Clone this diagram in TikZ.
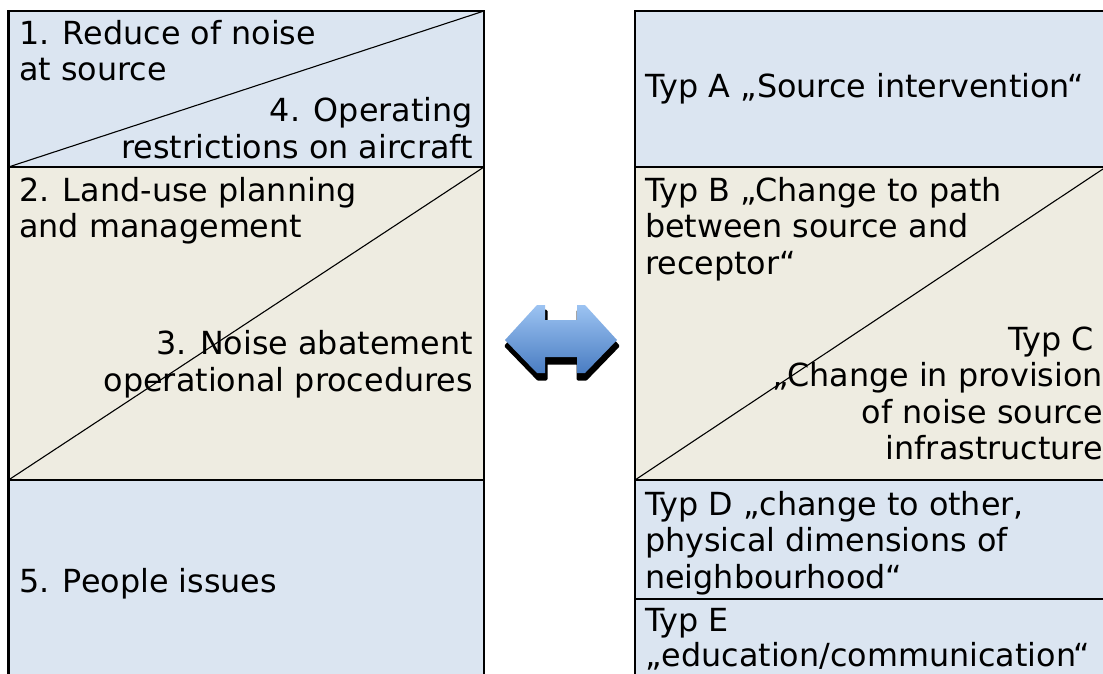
\documentclass[tikz,border=0pt]{standalone}
\usepackage{fontspec}
\setmainfont{DejaVu Sans}
\definecolor{cellblue}{HTML}{DBE5F1}
\definecolor{celltan}{HTML}{EEECE1}
\definecolor{arrowtop}{HTML}{9CC3F2}
\definecolor{arrowbot}{HTML}{4A7DC2}
% outline of the two-headed arrow between the columns
\newcommand{\twowaypath}{(505,340) -- (537,305) -- (545,305) -- (545,320) -- (577,320) -- (577,305) -- (585,305) -- (617,340) -- (585,373) -- (577,373) -- (577,357) -- (545,357) -- (545,373) -- (537,373) -- cycle}
\begin{document}
\begin{tikzpicture}[x=1pt,y=-1pt,
  frame/.style={line width=2.6pt},
  diag/.style={line width=1.1pt},
  txt/.style={inner sep=0pt,font=\fontsize{31.8}{36.5}\selectfont},
  tl/.style={txt,align=left,anchor=north west},
  br/.style={txt,align=right,anchor=south east},
  ml/.style={txt,anchor=base west}]
\useasboundingbox (0,0) rectangle (1103,673);
\clip (0,0) rectangle (1103,673);
\fill[white] (0,0) rectangle (1103,673);

% cell backgrounds
\fill[cellblue] (8.5,11) rectangle (484,167);
\fill[celltan]  (8.5,167) rectangle (484,480);
\fill[cellblue] (8.5,480) rectangle (484,690);
\fill[cellblue] (635,11) rectangle (1106,167);
\fill[celltan]  (635,167) rectangle (1106,480);
\fill[cellblue] (635,480) rectangle (1106,690);

% split cells
\draw[diag] (8.5,167) -- (484,11);
\draw[diag] (8.5,480) -- (484,167);
\draw[diag] (635,480) -- (1106,167);

% cell borders
\draw[frame] (8.5,690) -- (8.5,11) -- (484,11) -- (484,690);
\draw[frame] (8.5,167) -- (484,167) (8.5,480) -- (484,480);
\draw[frame] (1106,11) -- (635,11) -- (635,690);
\draw[frame] (635,167) -- (1106,167) (635,480) -- (1106,480) (635,599) -- (1106,599);

% left column texts
\node[tl] (reduce) at (19,18.45) {\strut 1. Reduce of noise\\at source\strut};
\node[br] (operating) at (473,169.45) {\strut 4. Operating\\restrictions on aircraft\strut};
\node[tl] (landuse) at (19,175.45) {\strut 2. Land-use planning\\and management\strut};
\node[br] (abatement) at (473,402.45) {\strut 3. Noise abatement\\operational procedures\strut};
\node[ml] (people) at (19,592) {5. People issues};

% right column texts
\node[ml] (typA) at (645,97) {Typ A „Source intervention“};
\node[tl] (typB) at (645,175.45) {\strut Typ B „Change to path\\between source and\\receptor“\strut};
\node[br] (typC) at (1103,470.95) {\strut Typ C\kern9pt\\„Change in provision\\of noise source\\infrastructure\strut};
\node[tl] (typD) at (645,489.45) {\strut Typ D „change to other,\\physical dimensions of\\neighbourhood“\strut};
\node[tl,font=\fontsize{31.8}{34}\selectfont] (typE) at (645,607.2) {\strut Typ E\\„education/communication“};

% two-headed arrow with drop shadow
\filldraw[black,line width=3pt,line join=round,shift={(1,6)}] \twowaypath;
\shade[top color=arrowtop,bottom color=arrowbot] \twowaypath;
\end{tikzpicture}
\end{document}
